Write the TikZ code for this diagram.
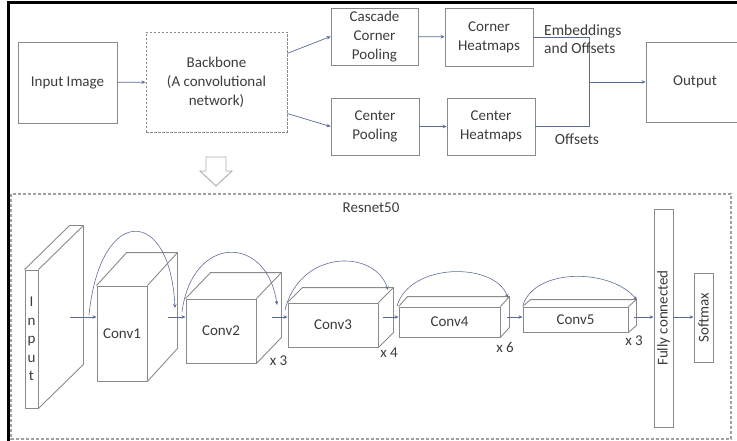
\documentclass[tikz,border=0pt]{standalone}
\usepackage{fontspec}
\setmainfont{Carlito}
\usetikzlibrary{arrows.meta,calc}
\definecolor{boxgray}{HTML}{8A8A8A}
\definecolor{txtgray}{HTML}{3C3C3C}
\definecolor{arrblue}{HTML}{5A6A9A}

% depth faces of a block: node, dx, dy
\newcommand{\depthfaces}[3]{%
  \draw[box] (#1.north west) -- ++(#2,-#3) -- ($(#1.north east)+(#2,-#3)$)
    -- ($(#1.south east)+(#2,-#3)$) -- (#1.south east);
  \draw[box] (#1.north east) -- ++(#2,-#3);
}

\begin{document}
\begin{tikzpicture}[x=1pt,y=-1pt,
  box/.style={draw=boxgray, line width=0.9pt},
  blk/.style={box, text=txtgray, inner sep=0pt, align=center, font=\fontsize{15}{19}\selectfont},
  dbox/.style={blk, dash pattern=on 2.5pt off 1.5pt},
  lbl/.style={text=txtgray, inner sep=0pt, align=left, font=\fontsize{15}{19}\selectfont},
  arr/.style={draw=arrblue, line width=0.7pt, -{Stealth[length=4pt,width=3.5pt]}},
  skip/.style={arr, draw=arrblue!80!gray, line width=0.6pt}]
\useasboundingbox (0,0) rectangle (737,441);
\clip (0,0) rectangle (737,441);

% frame
\draw[line width=2.5pt] (8.5,441) -- (8.5,2.5) -- (737,2.5);
\draw[draw=boxgray!80, line width=1.2pt, dash pattern=on 3pt off 2pt] (11,194) rectangle (731,439);

% top row
\node[blk, minimum width=99pt, minimum height=81pt] (img) at (67.5,82.5) {Input Image};
\node[dbox, minimum width=141pt, minimum height=100pt] (bb) at (216.5,82) {Backbone\\(A convolutional\\network)};
\node[blk, minimum width=87pt, minimum height=57pt] (ccp) at (374.5,36.5) {Cascade\\Corner\\Pooling};
\node[blk, minimum width=88pt, minimum height=57pt] (cp) at (375,126.5) {Center\\Pooling};
\node[blk, minimum width=88pt, minimum height=58pt] (crh) at (489,37) {Corner\\Heatmaps};
\node[blk, minimum width=88pt, minimum height=57pt] (ceh) at (491,126.5) {Center\\Heatmaps};
\node[blk, minimum width=98pt, minimum height=80pt] (out) at (695,82) {Output};
\coordinate (join) at (589,82);

\draw[arr] (img) -- (bb);
\draw[arr] (bb.22) -- (ccp.west);
\draw[arr] (bb.-24) -- (cp.west);
\draw[arr] (ccp) -- (crh);
\draw[arr] (cp) -- (ceh);
\draw[draw=arrblue, line width=0.7pt] (crh.east) -| (join);
\draw[draw=arrblue, line width=0.7pt] (ceh.east) -| (join);
\draw[arr] (join) -- (out.west);

\node[lbl, anchor=west, font=\fontsize{15.5}{18}\selectfont] (emb) at (544,39) {Embeddings\\and Offsets};
\node[lbl, font=\fontsize{15.5}{18}\selectfont] (off) at (577,139) {Offsets};

% hollow arrow
\draw[draw=boxgray!70, fill=white, line width=0.9pt]
  (206,157) -- (226,157) -- (226,171) -- (232,171) -- (216,186) -- (200,171) -- (206,171) -- cycle;

% resnet
\node[lbl] (rn) at (371,208) {Resnet50};

\node[blk, minimum width=13pt, minimum height=138pt, font=\fontsize{15}{18.5}\selectfont] (inp) at (31.5,339) {I\\n\\p\\u\\t};
\depthfaces{inp}{45}{44}
\node[blk, minimum width=50pt, minimum height=95pt] (conv1) at (122,333.5) {Conv1};
\depthfaces{conv1}{30}{33}
\node[blk, minimum width=70pt, minimum height=64pt] (conv2) at (221,331) {Conv2};
\depthfaces{conv2}{25}{26}
\node[blk, minimum width=90pt, minimum height=44pt] (conv3) at (333,325) {Conv3};
\depthfaces{conv3}{15}{15}
\node[blk, minimum width=101pt, minimum height=30pt] (conv4) at (449.5,322) {Conv4};
\depthfaces{conv4}{9}{10}
\node[blk, minimum width=105pt, minimum height=25pt] (conv5) at (575.5,319.5) {Conv5};
\depthfaces{conv5}{8}{7}
\node[blk, rotate=90, minimum width=218pt, minimum height=19pt] (fc) at (663.5,318) {Fully connected};
\node[blk, rotate=90, minimum width=89pt, minimum height=19pt] (sm) at (703.5,317.5) {Softmax};

\node[lbl] (r2) at (278.5,361) {x 3};
\node[lbl] (r3) at (389,353) {x 4};
\node[lbl] (r4) at (505,347) {x 6};
\node[lbl] (r5) at (634,341) {x 3};

% forward arrows
\coordinate (o0) at (70,317);
\coordinate (o1) at (168,317);
\coordinate (o2) at (272,317);
\coordinate (o3) at (383,317);
\coordinate (o4) at (507,317);
\coordinate (o5) at (634,317);
\draw[arr] (o0) -- (o0 -| conv1.west);
\draw[arr] (o1) -- (o1 -| conv2.west);
\draw[arr] (o2) -- (o2 -| conv3.west);
\draw[arr] (o3) -- (o3 -| conv4.west);
\draw[arr] (o4) -- (o4 -| conv5.west);
\draw[arr] (o5) -- (o5 -| fc.north);
\draw[arr] (fc.south |- o5) -- (sm.north |- o5);

% skip connections
\coordinate (s1) at (89,315);  \coordinate (e1) at (175,308);
\coordinate (s2) at (182,312); \coordinate (e2) at (277,305);
\coordinate (s3) at (285,310); \coordinate (e3) at (388,290);
\coordinate (s4) at (397,306); \coordinate (e4) at (508,298);
\coordinate (s5) at (523,305); \coordinate (e5) at (637,300);
\draw[skip] (s1) .. controls (100,205) and (170,205) .. (e1);
\draw[skip] (s2) .. controls (192,234) and (267,234) .. (e2);
\draw[skip] (s3) .. controls (300,249) and (375,249) .. (e3);
\draw[skip] (s4) .. controls (410,262) and (495,262) .. (e4);
\draw[skip] (s5) .. controls (535,268) and (610,268) .. (e5);
\end{tikzpicture}
\end{document}
